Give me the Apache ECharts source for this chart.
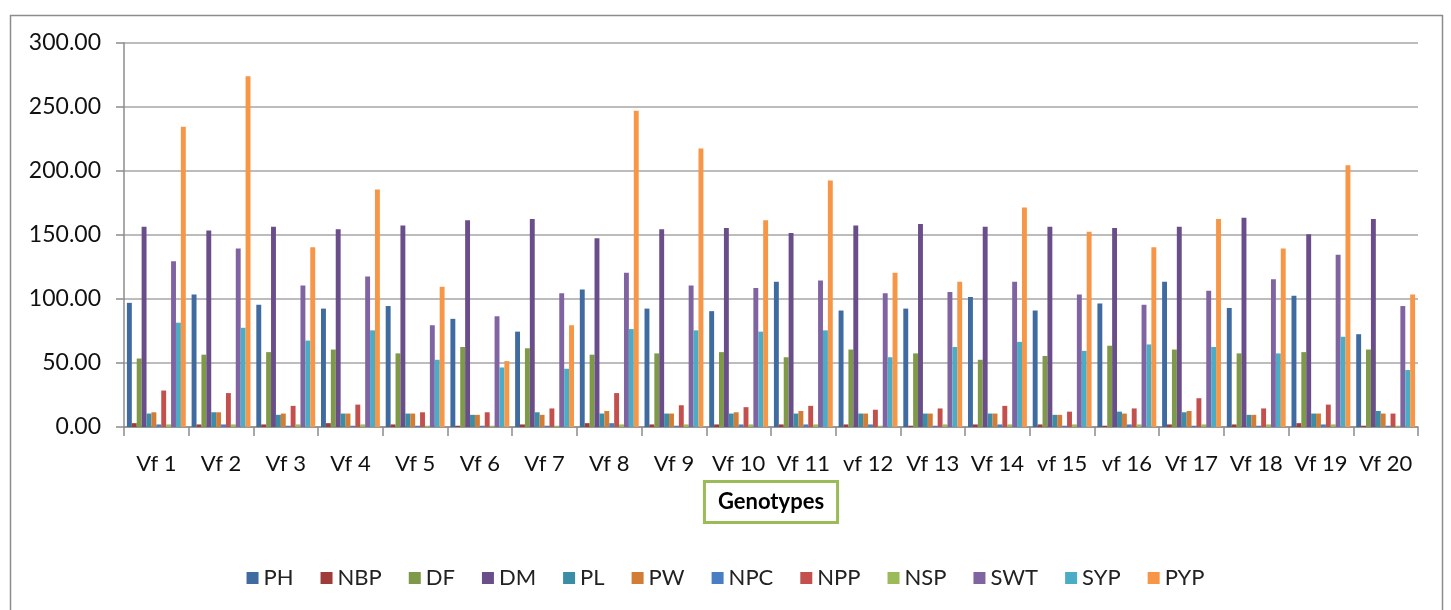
<!DOCTYPE html>
<html>
<head>
<meta charset="utf-8">
<title>Genotypes</title>
<script src="https://cdn.jsdelivr.net/npm/echarts@6/dist/echarts.min.js"></script>
<style>
  html, body { margin: 0; padding: 0; background: #fff; }
  #chart { width: 1451px; height: 610px; }
</style>
</head>
<body>
<div id="chart"></div>
<script>
// categories
const genotypes = ["Vf 1", "Vf 2", "Vf 3", "Vf 4", "Vf 5", "Vf 6", "Vf 7", "Vf 8", "Vf 9", "Vf 10",
  "Vf 11", "vf 12", "Vf 13", "Vf 14", "vf 15", "vf 16", "Vf 17", "Vf 18", "Vf 19", "Vf 20"];

// series values
const PH = [97, 103.5, 95.5, 92.5, 94.5, 84.5, 74.5, 107.5, 92.5, 90.5, 113.5, 91, 92.5, 101.5, 91, 96.5, 113.5, 93, 102.5, 72.5];
const NBP = [3, 2, 2, 3, 2, 1, 2, 3, 2, 2, 2, 2, 1, 2, 2, 1, 2, 2, 3, 1];
const DF = [53.5, 56.5, 58.5, 60.5, 57.5, 62.5, 61.5, 56.5, 57.5, 58.5, 54.5, 60.5, 57.5, 52.5, 55.5, 63.5, 60.5, 57.5, 58.5, 60.5];
const DM = [156.5, 153.5, 156.5, 154.5, 157.5, 161.5, 162.5, 147.5, 154.5, 155.5, 151.5, 157.5, 158.5, 156.5, 156.5, 155.5, 156.5, 163.5, 150.5, 162.5];
const PL = [10.5, 11.5, 9.5, 10.5, 10.5, 9.5, 11.5, 10.5, 10.5, 10.5, 10.5, 10.5, 10.5, 10.5, 9.5, 12, 11.5, 9.5, 10.5, 12.5];
const PW = [11.5, 11.5, 10.5, 10.5, 10.5, 9.5, 9.5, 12.5, 10.5, 11.5, 12.5, 10.5, 10.5, 10.5, 9.5, 10.5, 12.5, 9.5, 10.5, 10.5];
const NPC = [2, 2, 1, 1, 1, 1, 1, 3, 1, 2, 2, 2, 1, 2, 1, 2, 1, 1, 2, 1];
const NPP = [28.5, 26.5, 16.5, 17.5, 11.5, 11.5, 14.5, 26.5, 17, 15.5, 16.5, 13.5, 14.5, 16.5, 12, 14.5, 22.5, 14.5, 17.5, 10.5];
const NSP = [2, 2, 2, 2, 1, 1, 1, 2, 2, 2, 2, 1, 2, 2, 2, 2, 2, 2, 2, 1];
const SWT = [129.5, 139.5, 110.5, 117.5, 79.5, 86.5, 104.5, 120.5, 110.5, 108.5, 114.5, 104.5, 105.5, 113.5, 103.5, 95.5, 106.5, 115.5, 134.5, 94.5];
const SYP = [81.5, 77.5, 67.5, 75.5, 52.5, 46.5, 45.5, 76.5, 75.5, 74.5, 75.5, 54.5, 62.5, 66.5, 59.5, 64.5, 62.5, 57.5, 70.5, 44.5];
const PYP = [234.5, 274, 140.5, 185.5, 109.5, 51.5, 79.5, 247, 217.5, 161.5, 192.5, 120.5, 113.5, 171.5, 152.5, 140.5, 162.5, 139.5, 204.5, 103.5];

// y axis ticks
const yMin = 0;
const yMax = 300;
const yStep = 50;

const seriesNames = ["PH", "NBP", "DF", "DM", "PL", "PW", "NPC", "NPP", "NSP", "SWT", "SYP", "PYP"];
const seriesData = [PH, NBP, DF, DM, PL, PW, NPC, NPP, NSP, SWT, SYP, PYP];
const colors = ["#3f6ba1", "#9f3c3a", "#7e9a48", "#6a4e8a", "#3a8da5", "#d27c36",
  "#4a7ec4", "#c4504e", "#9bbb59", "#8064a2", "#4bacc6", "#f79646"];

const font = "Lato, 'Open Sans', sans-serif";

const chart = echarts.init(document.getElementById("chart"));

chart.setOption({
  backgroundColor: "#fff",
  animation: false,
  color: colors,
  graphic: [
    {
      type: "rect",
      left: 8,
      top: 13,
      shape: { width: 1432, height: 610 },
      style: { fill: "none", stroke: "#8c8c8c", lineWidth: 1.5 },
      silent: true
    }
  ],
  grid: {
    left: 124,
    right: 33,
    top: 43,
    bottom: 183
  },
  legend: {
    data: seriesNames,
    left: "center",
    top: 562,
    itemWidth: 12,
    itemHeight: 12,
    itemGap: 27,
    icon: "rect",
    textStyle: {
      fontFamily: font,
      fontSize: 22,
      color: "#222"
    }
  },
  xAxis: {
    type: "category",
    data: genotypes,
    name: "Genotypes",
    nameLocation: "middle",
    nameGap: 53,
    nameTextStyle: {
      fontFamily: font,
      fontSize: 22,
      fontWeight: "bold",
      color: "#000",
      borderColor: "#9bbb59",
      borderWidth: 3,
      padding: [8, 12, 8, 12],
      backgroundColor: "#fff"
    },
    axisLine: { lineStyle: { color: "#8c8c8c", width: 1.5 } },
    axisTick: { show: true, length: 9, lineStyle: { color: "#8c8c8c", width: 1.5 } },
    axisLabel: {
      interval: 0,
      margin: 26,
      fontFamily: font,
      fontSize: 22,
      color: "#111"
    }
  },
  yAxis: {
    type: "value",
    min: yMin,
    max: yMax,
    interval: yStep,
    axisLine: { show: true, lineStyle: { color: "#8c8c8c", width: 1.5 } },
    axisTick: { show: true, length: 8, lineStyle: { color: "#8c8c8c", width: 1.5 } },
    splitLine: { show: true, lineStyle: { color: "#a6a6a6", width: 1.5 } },
    axisLabel: {
      margin: 23,
      fontFamily: font,
      fontSize: 23,
      color: "#111",
      formatter: function (v) {
        return v.toFixed(2);
      }
    }
  },
  series: seriesNames.map(function (name, i) {
    return {
      name: name,
      type: "bar",
      data: seriesData[i],
      barGap: "0%",
      barCategoryGap: "9%",
      itemStyle: { color: colors[i] }
    };
  })
});
</script>
</body>
</html>
